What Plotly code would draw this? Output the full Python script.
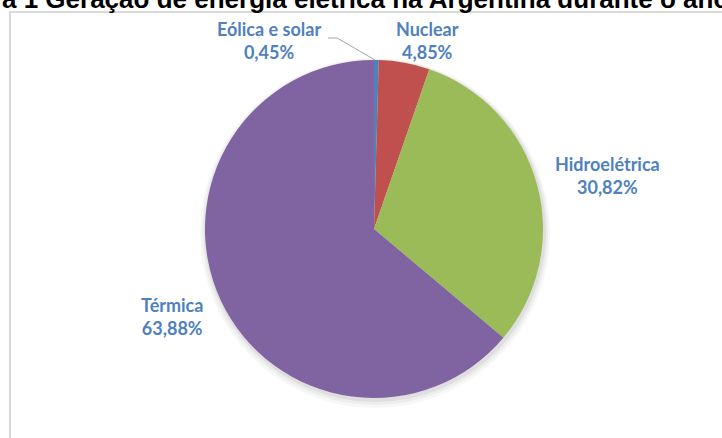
import plotly.graph_objects as go

# ---- data ----
categories = ["Eólica e solar", "Nuclear", "Hidroelétrica", "Térmica"]
shares = [0.45, 4.85, 30.82, 63.88]
colors = ["#4F81BD", "#C0504D", "#9BBB59", "#8064A2"]
title_text = "Figura 1 Geração de energia elétrica na Argentina durante o ano"

W, H = 722, 438


def px(x):
    return x / W


def py(y):
    return 1 - y / H


# pie geometry (pixels)
cx, cy, r = 374, 229, 169


def dom(dx=0, dy=0, dr=0):
    return dict(x=[px(cx - r - dr + dx), px(cx + r + dr + dx)],
                y=[py(cy + r + dr + dy), py(cy - r - dr + dy)])


fig = go.Figure()

# soft drop shadow layers
for dr, dy, a in [(6, 4, 0.03), (4, 3, 0.04), (2, 2, 0.06)]:
    fig.add_trace(go.Pie(values=[1], marker=dict(colors=[f"rgba(0,0,0,{a})"], line=dict(width=0)),
                         textinfo="none", hoverinfo="skip", showlegend=False, sort=False,
                         domain=dom(dx=1, dy=dy, dr=dr)))

fig.add_trace(go.Pie(
    labels=categories, values=shares, sort=False, direction="clockwise", rotation=0,
    marker=dict(colors=colors, line=dict(width=0)),
    textinfo="none", showlegend=False, domain=dom(),
))

label_pos = [(269, 41), (427, 41), (607, 175), (172, 316)]
annotations = []
for (lx, ly), cat, val in zip(label_pos, categories, shares):
    txt = f"<b>{cat}</b><br><b>{val:.2f}%</b>".replace(".", ",")
    annotations.append(dict(x=px(lx), y=py(ly), xref="paper", yref="paper", text=txt,
                            showarrow=False, xanchor="center", yanchor="middle",
                            font=dict(family="Lato", size=18, color="#4F81BD")))

annotations.append(dict(x=px(-65), y=py(16), xref="paper", yref="paper", text=f"<b>{title_text}</b>",
                        showarrow=False, xanchor="left", yanchor="bottom",
                        font=dict(family="Liberation Sans, Arial", size=26, color="#000000")))

shapes = [
    dict(type="rect", xref="paper", yref="paper", x0=px(10), x1=px(760), y0=py(480), y1=py(12),
         line=dict(color="#d9d9d9", width=2), layer="below"),
    dict(type="path", xref="paper", yref="paper",
         path=f"M {px(328)},{py(38)} L {px(337)},{py(38)} L {px(375)},{py(60)}",
         line=dict(color="#a6a6a6", width=1)),
]

fig.update_layout(width=W, height=H, margin=dict(l=0, r=0, t=0, b=0),
                  paper_bgcolor="white", plot_bgcolor="white",
                  annotations=annotations, shapes=shapes)

fig.write_html("out.html", config={"displayModeBar": False},
               post_script="document.body.style.margin='0';document.body.style.overflow='hidden';")
